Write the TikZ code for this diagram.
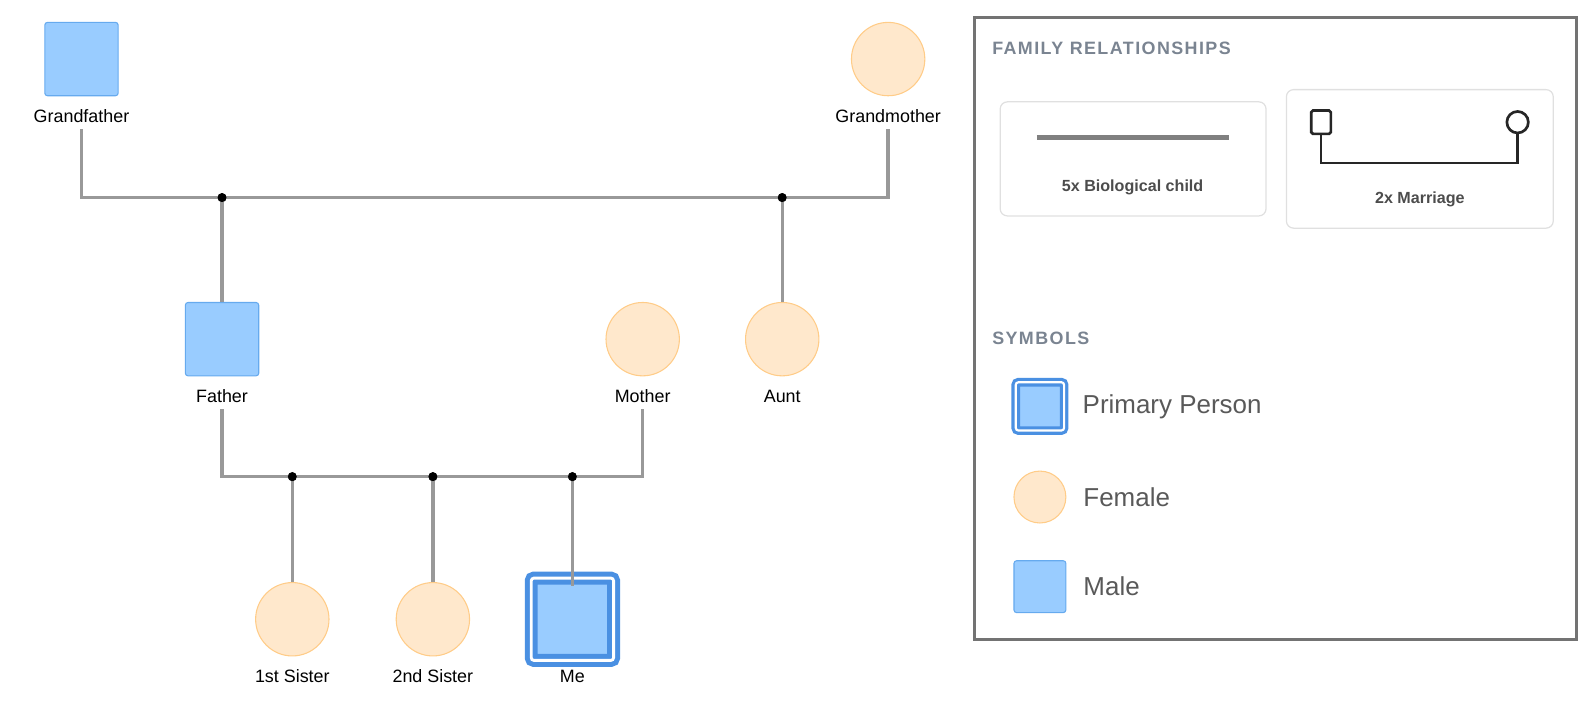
\documentclass[tikz,border=0pt]{standalone}
\usepackage{fontspec}
\setmainfont{Liberation Sans}
\usetikzlibrary{positioning,calc}
\definecolor{malefill}{HTML}{99CCFF}
\definecolor{maledraw}{HTML}{66AAEE}
\definecolor{femfill}{HTML}{FFE8CC}
\definecolor{femdraw}{HTML}{FFCC88}
\definecolor{linkgray}{HTML}{999999}
\definecolor{headgray}{HTML}{7A8491}
\definecolor{primblue}{HTML}{4A90E2}
\tikzset{
    male/.style={rectangle, rounded corners=1.5pt, minimum size=41pt, fill=malefill, draw=maledraw, line width=0.6pt},
    female/.style={circle, minimum size=41pt, fill=femfill, draw=femdraw, line width=0.6pt},
    primary/.style={male, double=white, double distance=1.6pt, draw=primblue, line width=2.8pt, minimum size=46pt},
    caption/.style={font=\fontsize{10}{12}\selectfont},
    link/.style={draw=linkgray, line width=1.9pt},
    junction/.style={circle, fill=black, inner sep=0pt, minimum size=5pt},
    card/.style={draw=black!12, line width=0.7pt, rounded corners=4pt},
    heading/.style={font=\fontsize{10}{12}\selectfont\bfseries\addfontfeature{LetterSpace=8}, text=headgray, anchor=west},
    legendtext/.style={font=\fontsize{14.5}{16}\selectfont, text=black!65, anchor=west},
}
\begin{document}
\begin{tikzpicture}[x=0.02cm, y=-0.02cm]
	\useasboundingbox (0,0) rectangle (1566,702);
	% people
	\node[male] (gf) at (80,58) {};
	\node[caption, below=4pt of gf] (gfl) {Grandfather};
	\node[female] (gm) at (872,58) {};
	\node[caption, below=4pt of gm] (gml) {Grandmother};
	\node[male] (fa) at (218,333) {};
	\node[caption, below=4pt of fa] (fal) {Father};
	\node[female] (mo) at (631,333) {};
	\node[caption, below=4pt of mo] (mol) {Mother};
	\node[female] (au) at (768,333) {};
	\node[caption, below=4pt of au] (aul) {Aunt};
	\node[female] (s1) at (287,608) {};
	\node[caption, below=4pt of s1] (s1l) {1st Sister};
	\node[female] (s2) at (425,608) {};
	\node[caption, below=4pt of s2] (s2l) {2nd Sister};
	\node[primary] (me) at (562,608) {};
	\node[caption] (mel) at (562,664) {Me};
	%
	\coordinate (gfc) at (80,194);
	\coordinate (gmc) at (872,194);
	\coordinate (fac) at (218,468);
	\coordinate (moc) at (631,468);
	\node[junction] (j1) at (218,194) {};
	\node[junction] (j2) at (768,194) {};
	\node[junction] (j3) at (287,468) {};
	\node[junction] (j4) at (425,468) {};
	\node[junction] (j5) at (562,468) {};
	% couples
	\draw[link] (gfl) -- (gfc) -- (gmc) -- (gml);
	\draw[link] (fal) -- (fac) -- (moc) -- (mol);
	% children
	\draw[link] (j1) -- (fa);
	\draw[link] (j2) -- (au);
	\draw[link] (j3) -- (s1);
	\draw[link] (j4) -- (s2);
	\draw[link] (j5) -- ([yshift=-6pt]me.north);
	\node[junction] at (j1) {};
	\node[junction] at (j2) {};
	\node[junction] at (j3) {};
	\node[junction] at (j4) {};
	\node[junction] at (j5) {};
	% legend
	\draw[draw=black!55, line width=1.4pt] (957,17) rectangle (1548,628);
	\node[heading] (h1) at (968,47) {FAMILY RELATIONSHIPS};
	\draw[card] (982,100) rectangle (1243,212);
	\draw[draw=black!50, line width=2.5pt] (1018,135) -- (1207,135);
	\node[font=\fontsize{9}{11}\selectfont\bfseries, text=black!70] (bc) at (1112,184) {5x Biological child};
	\draw[card] (1263,88) rectangle (1525,224);
	\node[draw=black!85, line width=1.5pt, minimum width=11pt, minimum height=13pt, inner sep=0pt, rounded corners=1pt] (ms) at (1297,120) {};
	\node[draw=black!85, line width=1.5pt, circle, minimum size=12pt, inner sep=0pt] (mf) at (1490,120) {};
	\draw[draw=black!85, line width=1.5pt] (ms.south) |- (1394,160) -| (mf.south);
	\node[font=\fontsize{9}{11}\selectfont\bfseries, text=black!70] (mr) at (1394,196) {2x Marriage};
	\node[heading] (h2) at (968,332) {SYMBOLS};
	\node[primary, minimum size=27pt, line width=1.8pt, double distance=1.2pt] (lp) at (1021,399) {};
	\node[legendtext, right=6pt of lp] {Primary Person};
	\node[female, minimum size=29pt] (lf) at (1021,488) {};
	\node[legendtext, right=6pt of lf] {Female};
	\node[male, minimum size=29pt] (lm) at (1021,576) {};
	\node[legendtext, right=6pt of lm] {Male};
\end{tikzpicture}
\end{document}
